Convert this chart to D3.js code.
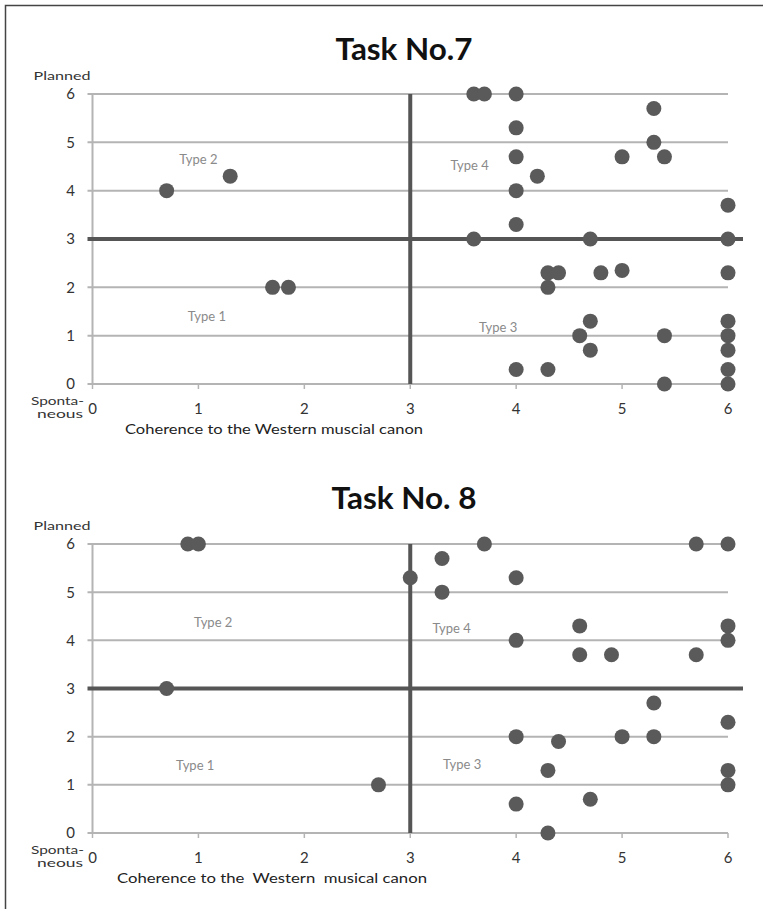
<!DOCTYPE html>
<html>
<head>
<meta charset="utf-8">
<script src="https://cdn.jsdelivr.net/npm/d3@7"></script>
<style>
  html, body { margin: 0; padding: 0; background: #fff; }
  svg { display: block; }
  text { font-family: Lato, "Open Sans", sans-serif; }
</style>
</head>
<body>
<svg id="chart" width="763" height="909"></svg>
<script>
// Axis ticks shared by both panels
const xTicks = [0, 1, 2, 3, 4, 5, 6];
const yTicks = [0, 1, 2, 3, 4, 5, 6];
const quadrantNames = ["Type 1", "Type 2", "Type 3", "Type 4"];

// Task No.7 observations
const task7X = [0.7, 1.3, 1.7, 1.85,
  3.6, 3.7, 4.0, 5.3, 4.0, 5.3, 5.0, 5.4, 4.0, 4.2, 4.0, 6.0, 4.0,
  3.6, 4.7, 6.0,
  4.3, 4.4, 4.3, 4.8, 5.0, 6.0,
  4.7, 4.6, 4.7, 5.4, 6.0, 6.0, 6.0, 6.0, 6.0, 4.0, 4.3, 5.4];
const task7Y = [4.0, 4.3, 2.0, 2.0,
  6.0, 6.0, 6.0, 5.7, 5.3, 5.0, 4.7, 4.7, 4.7, 4.3, 4.0, 3.7, 3.3,
  3.0, 3.0, 3.0,
  2.3, 2.3, 2.0, 2.3, 2.35, 2.3,
  1.3, 1.0, 0.7, 1.0, 1.3, 1.0, 0.7, 0.3, 0.0, 0.3, 0.3, 0.0];

// Task No. 8 observations
const task8X = [0.9, 1.0, 0.7,
  3.7, 5.7, 6.0, 3.3, 3.0, 4.0, 3.3,
  4.6, 6.0, 4.0, 6.0, 4.6, 4.9, 5.7,
  5.3, 6.0, 4.0, 4.4, 5.0, 5.3,
  4.3, 6.0, 6.0, 2.7, 4.0, 4.7, 4.3];
const task8Y = [6.0, 6.0, 3.0,
  6.0, 6.0, 6.0, 5.7, 5.3, 5.3, 5.0,
  4.3, 4.3, 4.0, 4.0, 3.7, 3.7, 3.7,
  2.7, 2.3, 2.0, 1.9, 2.0, 2.0,
  1.3, 1.3, 1.0, 1.0, 0.6, 0.7, 0.0];

const svg = d3.select("#chart");

// outer frame (left and top edges)
svg.append("path")
  .attr("d", "M5.5,909 L5.5,5.5 L763,5.5")
  .attr("fill", "none").attr("stroke", "#444").attr("stroke-width", 1.5);

const x = d3.scaleLinear().domain([0, 6]).range([92.5, 728]);

function panel(cfg) {
  const y = d3.scaleLinear().domain([0, 6]).range([cfg.bottom, cfg.top]);
  const g = svg.append("g");
  const grid = "#b4b4b4";

  // title
  g.append("text")
    .attr("x", 404).attr("y", cfg.titleY)
    .attr("text-anchor", "middle")
    .attr("font-size", 30).attr("font-weight", 700).attr("fill", "#111")
    .attr("textLength", cfg.titleW).attr("lengthAdjust", "spacingAndGlyphs")
    .text(cfg.title);

  // horizontal gridlines (3 is drawn as the thick divider)
  g.selectAll("line.grid").data(yTicks.filter(d => d !== 3)).join("line")
    .attr("x1", x(0) - 5).attr("x2", x(6))
    .attr("y1", d => y(d)).attr("y2", d => y(d))
    .attr("stroke", grid).attr("stroke-width", 2);

  // vertical axis line
  g.append("line")
    .attr("x1", x(0)).attr("x2", x(0))
    .attr("y1", y(0)).attr("y2", y(6))
    .attr("stroke", grid).attr("stroke-width", 2);

  // x ticks below the baseline
  g.selectAll("line.xtick").data(xTicks).join("line")
    .attr("x1", d => x(d)).attr("x2", d => x(d))
    .attr("y1", y(0)).attr("y2", y(0) + 5)
    .attr("stroke", grid).attr("stroke-width", 1.5);

  // y tick labels
  g.selectAll("text.ylab").data(yTicks).join("text")
    .attr("x", x(0) - 22).attr("y", d => y(d))
    .attr("dy", "0.36em").attr("text-anchor", "middle")
    .attr("font-size", 15).attr("fill", "#333")
    .text(d => d);

  // x tick labels
  g.selectAll("text.xlab").data(xTicks).join("text")
    .attr("x", d => x(d)).attr("y", y(0) + 25)
    .attr("dy", "0.36em").attr("text-anchor", "middle")
    .attr("font-size", 15).attr("fill", "#333")
    .text(d => d);

  // end labels of the vertical scale
  g.append("text")
    .attr("x", 62).attr("y", y(6) - 14)
    .attr("text-anchor", "middle").attr("font-size", 12).attr("fill", "#333")
    .attr("textLength", 57).attr("lengthAdjust", "spacingAndGlyphs")
    .text("Planned");
  g.append("text")
    .attr("x", 84).attr("y", y(0) + 21)
    .attr("text-anchor", "end").attr("font-size", 11).attr("fill", "#333")
    .attr("textLength", 53).attr("lengthAdjust", "spacingAndGlyphs")
    .text("Sponta-");
  g.append("text")
    .attr("x", 83).attr("y", y(0) + 34)
    .attr("text-anchor", "end").attr("font-size", 11).attr("fill", "#333")
    .attr("textLength", 46).attr("lengthAdjust", "spacingAndGlyphs")
    .text("neous");

  // horizontal axis title
  g.append("text")
    .attr("x", cfg.axisX).attr("y", y(0) + 50)
    .attr("font-size", 14).attr("fill", "#222")
    .style("white-space", "pre")
    .attr("textLength", cfg.axisW).attr("lengthAdjust", "spacingAndGlyphs")
    .text(cfg.axisTitle);

  // quadrant dividers
  g.append("line")
    .attr("x1", x(0) - 5).attr("x2", x(6) + 15)
    .attr("y1", y(3)).attr("y2", y(3))
    .attr("stroke", "#555").attr("stroke-width", 4);
  g.append("line")
    .attr("x1", x(3)).attr("x2", x(3))
    .attr("y1", y(6)).attr("y2", y(0))
    .attr("stroke", "#555").attr("stroke-width", 4);

  // quadrant names
  g.selectAll("text.quad").data(quadrantNames).join("text")
    .attr("x", (d, i) => x(cfg.quadPos[i][0]))
    .attr("y", (d, i) => y(cfg.quadPos[i][1]))
    .attr("dy", "0.36em").attr("text-anchor", "middle")
    .attr("font-size", 13).attr("fill", "#8a8a8a")
    .text(d => d);

  // observations
  g.selectAll("circle").data(cfg.xs.map((v, i) => [v, cfg.ys[i]])).join("circle")
    .attr("cx", d => x(d[0])).attr("cy", d => y(d[1]))
    .attr("r", 7.5).attr("fill", "#5a5a5a");
}

panel({
  title: "Task No.7", titleY: 60, titleW: 137,
  top: 94, bottom: 384,
  axisTitle: "Coherence to the Western muscial canon", axisX: 125, axisW: 298,
  quadPos: [[1.08, 1.41], [1.0, 4.64], [3.83, 1.18], [3.56, 4.53]],
  xs: task7X, ys: task7Y
});

panel({
  title: "Task No. 8", titleY: 509, titleW: 145,
  top: 544, bottom: 833,
  axisTitle: "Coherence to the  Western  musical canon", axisX: 117, axisW: 310,
  quadPos: [[0.97, 1.41], [1.14, 4.38], [3.49, 1.43], [3.39, 4.25]],
  xs: task8X, ys: task8Y
});
</script>
</body>
</html>
